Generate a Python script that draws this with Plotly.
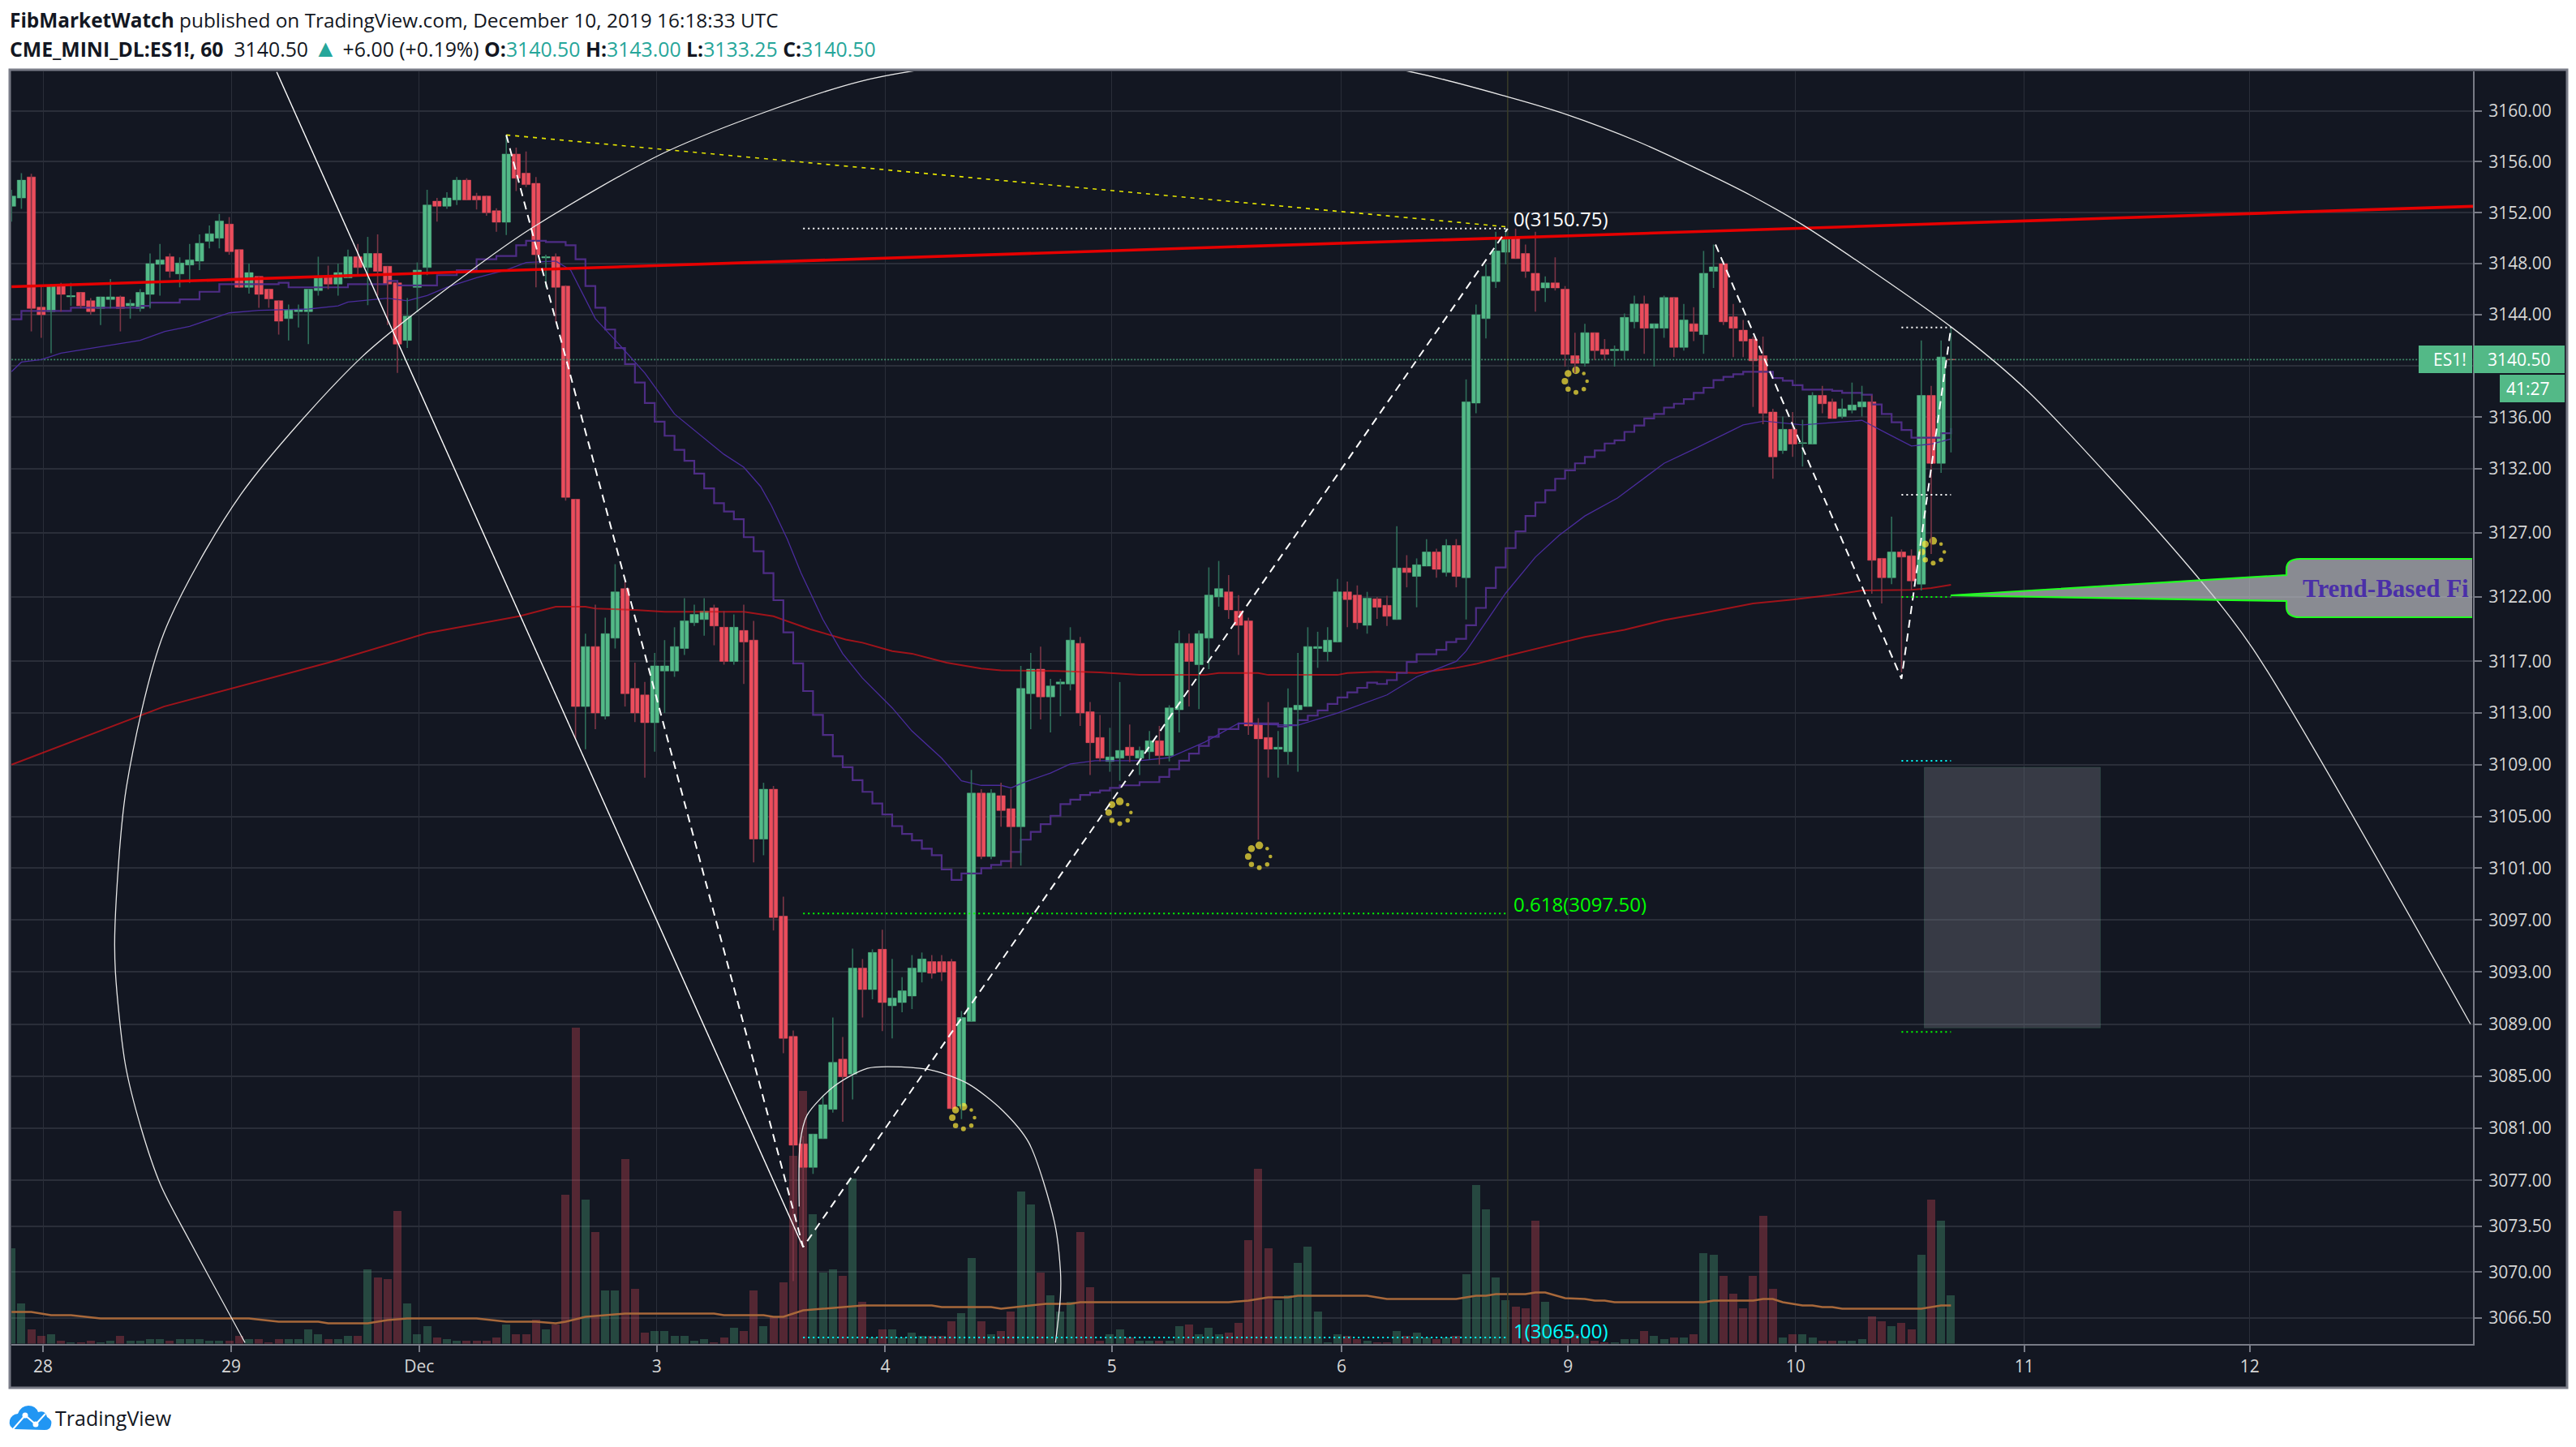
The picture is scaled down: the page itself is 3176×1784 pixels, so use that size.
import math
import plotly.graph_objects as go

W, H = 3176, 1784

# ---------- candles (one hourly bar per entry, weekend gaps removed) ----------
opens = [
3152.5,3153.15,3154.8,3144.6,3144.25,3146.3,3145.4,3145.75,3145.1,3144.5,
3145.2,3145.4,3144.7,3144.5,3145.6,3147.95,3148.55,3147.2,3147.9,3148.2,
3149.75,3150,3151.1,3149.1,3146.15,3147,3146,3145.1,3143.7,3144.25,
3144.25,3145.9,3147,3146.4,3146.9,3148.55,3147.7,3148.8,3147.8,3146.5,
3142,3146.15,3147.7,3152.9,3152.5,3153,3154.55,3153.3,3153.3,3152.15,
3151.25,3156.6,3155.1,3154.3,3148.45,3148.55,3146.25,3129.6,3113.5,3118.15,
3112.75,3118.8,3122.65,3114.9,3114.4,3112.25,3116.25,3116.25,3118,3120,
3120.25,3121.15,3119.65,3117,3119.4,3118.65,3103.25,3107.1,3097.3,3088.05,
3079.8,3078,3080.2,3082.45,3086.3,3085.15,3093.3,3091.65,3094.75,3090.4,
3090.65,3091.15,3093,3093.8,3093.8,3093.8,3082.7,3089.2,3106.8,3101.9,
3106.6,3105.6,3104.2,3114.5,3116.4,3114.25,3115.25,3115.25,3118.4,3113.1,
3111.1,3109.25,3109.5,3110.35,3109.5,3110,3110.85,3109.7,3113.25,3118.4,
3116.75,3118.8,3122,3122.4,3120.9,3120.15,3112.1,3111.1,3110.2,3110,
3113.25,3113.5,3118,3117.75,3118.5,3122.4,3122.15,3119.8,3121.86,3121.35,
3120.25,3124.25,3123.6,3124.4,3125.5,3123.9,3126,3123.5,3137.1,3143.7,
3146.6,3148.9,3150,3148.8,3147.25,3146.1,3146.5,3146,3140.8,3140.2,
3142.6,3141.3,3141.2,3141.2,3143.45,3144.85,3142.95,3142.95,3145.35,3141.45,
3143.3,3142.45,3147.4,3148,3143.85,3142.8,3142.1,3140.8,3136.4,3133.4,
3135.05,3133.95,3133.9,3137.7,3137.2,3136.05,3136.55,3136.8,3137.2,3125,
3123.5,3125.5,3125.2,3123,3137.7,3132.4,3140.5]
highs = [
3153.8,3155.1,3155.05,3146.3,3146.4,3146.5,3146.5,3145.75,3145.3,3145.4,
3146.8,3145.5,3145.2,3146,3148.8,3149.55,3148.8,3148.5,3149.55,3150.3,
3151,3151.9,3151.65,3149.1,3148,3147,3146,3145.1,3144.8,3144.8,
3146,3148.55,3147.85,3148,3149.1,3149.55,3150.1,3150.3,3147.8,3146.5,
3145.3,3148.1,3153.8,3153.15,3153.6,3154.8,3154.7,3153.55,3153.3,3152.35,
3158.1,3157.1,3156.8,3154.8,3148.7,3148.8,3146.3,3129.6,3119.15,3121.4,
3120.4,3124.55,3123.2,3116.9,3115.4,3117.65,3118.65,3119.65,3121.9,3121.4,
3121.9,3121.4,3120.9,3120.65,3121.4,3120.15,3107.6,3107.35,3098.8,3088.5,
3080.4,3080.55,3083.5,3089.5,3088,3094.8,3094,3094.75,3096.25,3094,
3092.6,3094.3,3094.5,3094.3,3094.3,3094,3090,3108.6,3107.1,3107.1,
3107.6,3107.1,3116.65,3117.65,3118.15,3115.65,3115.65,3119.65,3118.9,3113.85,
3112.85,3111.85,3115.4,3112.1,3110.4,3111.6,3112,3113.6,3119.4,3119.15,
3119.4,3124.3,3124.8,3123.7,3122.15,3120.4,3112.6,3113.85,3111.6,3114.9,
3117.65,3119.65,3119.3,3119.65,3123.4,3123.2,3122.9,3122.4,3122,3122.1,
3127.5,3125.25,3125,3126.5,3125.75,3126.5,3126.5,3138.95,3144.8,3147.95,
3150.5,3150.75,3150.75,3149.5,3150.5,3147,3148.5,3146.25,3142.6,3143.3,
3142.6,3142.1,3141.6,3144.1,3145.5,3145.5,3143.3,3145.5,3145.4,3144.85,
3144.6,3149,3149.5,3148.2,3144.85,3143.6,3142.3,3142.3,3136.65,3136.05,
3136.4,3135.8,3137.95,3138.45,3137.45,3137.45,3138.7,3138.45,3137.7,3125,
3128.25,3125.7,3125.7,3142,3138.45,3142,3143]
lows = [
3151.3,3152.3,3142.7,3142.2,3141,3144.25,3144.7,3144.5,3144,3143.2,
3144.5,3142.7,3143.7,3144.25,3144.5,3145.5,3146.9,3146.15,3146.5,3147.5,
3149.2,3149.2,3148.7,3146.15,3145.65,3144.55,3144.55,3142.45,3142,3143,
3141.7,3145.5,3146,3145.5,3146.9,3147,3144.75,3145.5,3143.2,3139.45,
3141.4,3144.2,3147.1,3151.3,3152.3,3152.6,3153,3152.25,3151.75,3150.5,
3150.25,3153.7,3154,3146.15,3146.15,3143.45,3129.5,3111,3110.2,3111.75,
3112.5,3118,3113.5,3112.3,3108,3110,3113,3115.8,3117.5,3119.75,
3119,3118.25,3116.75,3116.75,3115.25,3101.45,3102,3096.2,3086.75,3069.3,
3071.9,3077.5,3080.2,3082.2,3081.5,3083.2,3089.5,3090.9,3088.45,3087.9,
3089.9,3090.15,3092.2,3092.5,3092.3,3082.5,3081.7,3089.2,3101.7,3101.7,
3104.2,3101,3101.2,3111.75,3112.5,3111.5,3112.75,3114.75,3112,3108.2,
3109.25,3108.45,3107.75,3109.2,3108.2,3109.4,3109,3109.25,3111.5,3113.5,
3113.3,3116.4,3121.25,3120.3,3117.5,3111.3,3103.2,3108,3108,3109,
3108.45,3113.5,3116.5,3117,3118.5,3119.65,3119.5,3119.15,3120.3,3119.75,
3120.25,3122.75,3121.2,3124.4,3123.5,3123.6,3122.75,3120.25,3136.3,3142.15,
3146.1,3147.95,3148.4,3146.9,3144.25,3145,3145.9,3139.95,3139.45,3139.95,
3140.45,3140.45,3139.95,3140.45,3142.95,3140.95,3139.95,3142.2,3140.7,3141.2,
3141.95,3140.95,3146.1,3143.2,3140.7,3140.7,3136.8,3135.45,3131.2,3133.15,
3132.9,3132.15,3133.9,3136.3,3135.9,3135.9,3136.3,3136.05,3122.25,3121.5,
3123,3116.15,3122.55,3122.5,3125.35,3131.65,3133.25]
closes = [
3153.3,3154.55,3144.5,3144,3146.3,3145.6,3145.5,3144.7,3144.25,3145.4,
3145.4,3144.5,3144.9,3145.75,3148,3148.3,3147.4,3148.05,3148.3,3149.6,
3150.35,3151.35,3148.95,3146.15,3147.3,3145.6,3145.25,3143.5,3144.4,3144.4,
3146,3147,3146.4,3147.3,3148.55,3147.7,3148.8,3147.4,3146.4,3141.7,
3143.9,3147.5,3152.6,3152.5,3153.15,3154.55,3153,3153,3152,3151.25,
3156.6,3154.7,3154.2,3148.7,3148.55,3146.15,3129.75,3113.5,3118.15,3113,
3119.15,3122.4,3114.5,3113,3112.25,3116.65,3116.65,3118.15,3120.15,3120.65,
3120.9,3119.75,3117,3119.65,3118.5,3103.25,3107.1,3097.2,3087.9,3079.7,
3078,3080.55,3082.8,3086.05,3084.95,3093.3,3091.65,3094.5,3090.65,3091,
3091.55,3093.3,3094,3092.9,3093,3082.5,3089.5,3106.8,3101.9,3106.8,
3105.45,3104.2,3114.9,3116.4,3114.25,3115.1,3115.4,3118.65,3113,3110.7,
3109.5,3109.6,3110.1,3109.7,3110.1,3110.85,3109.7,3113.4,3118.4,3117,
3119.15,3122.15,3122.65,3121,3119.8,3112,3111,3110.2,3110.35,3113.4,
3113.6,3118.15,3118.15,3118.65,3122.4,3121.8,3120,3121.9,3121.2,3120.5,
3124.25,3123.9,3124.5,3125.5,3124.15,3126,3123.6,3137.2,3144,3147,
3149,3150,3148.4,3147.4,3145.9,3146.5,3146.1,3140.9,3140.2,3142.6,
3141.2,3140.9,3141.3,3143.8,3144.85,3142.95,3143.3,3145.35,3141.45,3143.6,
3142.7,3147.25,3147.75,3143.45,3142.95,3141.95,3140.4,3136.3,3132.9,3135.05,
3133.9,3134,3137.7,3137.05,3135.9,3136.65,3136.95,3137.2,3124.85,3123.5,
3125.5,3125.1,3123.25,3137.7,3132.4,3140.7,3140.5]

# volume, hundreds of contracts
volumes = [
118,50,18,10,12,4,2,2,4,2,4,10,4,4,6,6,4,6,6,6,
4,4,4,10,6,6,2,6,6,6,18,12,6,6,10,10,92,82,80,164,
50,12,22,8,6,4,4,4,4,8,24,12,12,30,18,24,184,390,178,138,
66,66,228,68,14,16,16,10,10,4,6,2,8,20,16,66,22,34,76,232,
312,160,88,92,84,204,52,8,18,18,8,14,10,10,10,28,38,106,28,12,
16,40,188,172,88,60,40,52,138,70,4,12,18,8,4,4,4,4,22,24,
12,20,12,14,26,128,216,118,54,60,100,120,40,2,12,10,6,4,2,2,
16,10,14,8,6,8,10,86,196,166,82,54,46,44,152,52,6,10,12,9,
4,2,2,6,6,16,10,6,8,8,12,112,110,84,62,44,84,158,68,8,
12,12,8,4,4,4,4,6,34,28,22,26,18,110,178,152,60]

vol_ma_x = [0,2,4,6,9,24,27,31,32,36,38,40,47,50,53,55,56,58,60,62,71,72,76,77,78,80,82,84,86,93,94,99,100,103,
            104.5,107,108,123,125,127,129,130,137,139,146,148,149,150,153,154,155,157,159,160,161,162,171,172,176,177,178,179,181,182,183,184,185,193,195,196]
vol_ma_y = [39,39,35,35,31,31,27,27,25,25,29,31,31,27,27,25,27,33,35,37,37,35,35,33,33,41,43,45,47,47,45,45,43,47,
            49,49,51,51,53,57,57,59,59,55,55,59,59,61,61,63,63,56,55,53,53,51,51,53,53,55,55,51,47,47,45,45,43,43,47,47]

# ---------- moving averages ----------
ma_fast_x = [0,1,3,5,13,15.5,18,22,25,30,33,34,38,40,42,44,47,50,52,55,56.5,59,61.5,64,67,69,72,74,75.7,76.8,78.4,79.8,82,84,86,89,91,94,96,98,100,101,102.2,105,107,109.5,114,117,120.6,124,126.7,130,134,139,142,146,147,151,154,156.4,159,162.3,167,170,175,177.1,181,184.4,187,189.5,192,194,196]
ma_fast_y = [3139.55,3140.3,3140.5,3141,3142,3142.7,3143.1,3144.15,3144.35,3144.45,3144.7,3145,3145.3,3145.1,3145.5,3146.15,3146.9,3147.5,3148.1,3148.2,3147.5,3143.7,3141.6,3139.45,3136.25,3135,3133.1,3132.1,3130.6,3129.1,3126.5,3123.85,3120.25,3117.6,3115.7,3113.4,3111.6,3109.5,3107.75,3107.4,3107.4,3107.2,3107.6,3108.35,3109.05,3109.3,3109.3,3109.55,3110.75,3112.2,3112.1,3112.05,3113,3114.4,3115.8,3117,3117.8,3122.3,3125.1,3126.8,3128.3,3129.7,3132.4,3133.5,3135.4,3135.7,3135.4,3135.6,3135.75,3134.75,3133.75,3133.9,3134.3]

ma_step_x = [0,1,6,13,14,17,19,21,27,28,32,34,38,39,42,43,45,47,49,51,52,54,56,57,58,59,60,61,62,63,64,65,66,67,68,69,70,71,72,73,74,75,76,77,78,79,80,81,82,83,84,85,86,87,88,89,90,91,92,93,94,95,96,98,99,100,101,102,103,104,105,106,107,108,109,110,111,112,114,116,117,118,119,120,121,122,124,128,129,130,131,132,133,134,135,136,137,
             138,139,140,141,142,144,145,146,147,148,149,150,151,152,153,154,155,156,157,158,159,160,161,162,163,164,165,166,167,168,169,170,171,172,173,174,175,178,179,180,181,184,185,187,188,189,190,191,192,195,196]
ma_step_y = [3143.65,3144.3,3144.55,3144.7,3144.95,3145.2,3145.8,3146.4,3146.5,3146.15,3146.15,3146.4,3146.65,3146.3,3146.3,3147.1,3147.5,3148.35,3148.6,3149.45,3149.8,3149.7,3149.45,3148.35,3146.25,3144.55,3142.85,3141.4,3140.15,3138.7,3137.1,3135.65,3134.55,3133.45,3132.6,3131.6,3130.45,3129.3,3128.65,3128.05,3126.65,3125.55,3123.85,3121.75,3119.25,3116.85,3114.7,3112.85,3111.3,3109.65,3108.8,3107.8,3106.9,3106,3105.15,3104.25,3103.65,3103.15,3102.5,3102,3100.9,3100.1,3100.6,3101,3101.25,3101.55,3102.25,3103.2,3103.8,3104.4,3105.05,3105.95,3106.3,3106.65,3106.85,3107,3107.2,3107.4,3107.65,3108.05,3108.65,3109.3,3109.85,3110.45,3111.15,3111.75,3112.2,3111.95,3112.05,3112.45,3112.8,3113.2,3113.7,3114.2,3114.6,3114.95,3115.35,
             3115.25,3115.55,3116.1,3116.95,3117.55,3117.9,3118.5,3118.75,3119.8,3121.15,3122.7,3124.3,3125.8,3127.1,3128.3,3129.35,3130.3,3131.2,3131.85,3132.4,3132.9,3133.4,3133.95,3134.2,3134.85,3135.35,3135.9,3136.25,3136.75,3137.05,3137.4,3137.9,3138.3,3138.9,3139.15,3139.35,3139.55,3139.05,3138.85,3138.5,3138.15,3138.05,3137.9,3137.75,3137,3136.25,3135.6,3135,3134.4,3134.75,3135.15]

ma_long_x = [0,15.4,32,42,51.3,53,55,58,59,63,66,74,77,80.7,84.3,86,89,91,94.5,98,100,105.6,110,114,120.6,122,126,127,134,135,138,142,146,148,151,155,159,163,167,171,176,180,184.4,187,192,194,196]
ma_long_y = [3109,3113.5,3116.9,3119.2,3120.5,3120.85,3121.25,3121.25,3121.1,3121,3120.85,3120.85,3120.5,3119.5,3118.7,3118.45,3117.8,3117.6,3116.9,3116.45,3116.3,3116.25,3116.15,3115.95,3115.95,3116.1,3116.1,3115.95,3115.95,3116.1,3116.2,3116.1,3116.5,3116.8,3117.4,3118.15,3118.9,3119.45,3120.2,3120.75,3121.5,3121.8,3122.2,3122.5,3122.55,3122.7,3122.95]

# ---------- drawings ----------
fib_high, fib_mid, fib_low = 3150.75, 3097.5, 3065.0
zigzag_a_x, zigzag_a_y = [50, 80, 151.2], [3158.1, 3071.9, 3150.75]
zigzag_b_x, zigzag_b_y = [172.2, 191, 196], [3149.5, 3115.65, 3143]
yellow_x, yellow_y = [50, 151], [3158.1, 3150.9]
trend_x, trend_y = [0, 248.75], [3146.2, 3152.5]
ray_x, ray_y = [26.8, 80], [3163.05, 3071.9]
spiral_small_x = [79.6,79.7,80.4,83.1,86.5,89.9,93.3,96.7,100.1,102.8,105.4,106,106,105.5]
spiral_small_y = [3075,3079.9,3082,3084.2,3085.6,3085.7,3085.4,3084.4,3082.4,3079.9,3073.8,3070.1,3068.1,3064.6]
spiral_big_x = [23.6,18.2,15.1,13.1,11.5,10.5,10.46,11.6,15.4,23.2,35.4,46,52.6,66.5,85.7,100,115,130,141.2,151.2,157.2,164.3,171,175.9,181.1,196.1,203.8,220.1,226.5,248.5]
spiral_big_y = [3064.6,3072.1,3076.6,3081,3085.9,3093,3096.6,3107.2,3119.2,3130,3140.7,3147.2,3150.8,3156.9,3162.3,3164,3164.6,3164.2,3163.1,3161.1,3159.7,3157.6,3155.2,3153.3,3151,3143,3138,3124.3,3118,3089]
ring_x = [112.0, 126.1, 96.2, 158.1, 194.2]
ring_y = [3105.3, 3101.9, 3081.8, 3138.8, 3125.5]
box_x, box_y = [193.3, 211.1], [3108.8, 3088.7]
last_price = 3140.5

tick_i = [3.18, 22.2, 41.2, 65.2, 88.3, 111.2, 134.4, 157.3, 180.3, 203.4, 226.2]
tick_day = ["28", "29", "Dec", "3", "4", "5", "6", "9", "10", "11", "12"]
price_ticks = [3160,3156,3152,3148,3144,3140,3136,3132,3127,3122,3117,3113,3109,3105,3101,3097,3093,3089,3085,3081,3077,3073.5,3070,3066.5]

# ---------- layout constants ----------
BG, GRID, AXIS = "#131722", "#2a2e39", "#787b86"
UP, DOWN = "#53b987", "#eb4d5c"
UP_W, DOWN_W = "#2f6e5a", "#7c3646"
TEAL = "#26a69a"
FONT = "Open Sans"
pane_l, pane_r, pane_t, pane_b = 14, 3049, 88, 1656.5
bar_px, bar0_px = 12.2, 14.2
LOG_B = 114083.0
log_at = lambda y: math.log10(3160) - (y - 136.6) / LOG_B
px = lambda x: x / W
py = lambda y: 1 - y / H
n = len(opens)
idx = list(range(n))

fig = go.Figure()

# volume (base subplot, under the price subplot)
fig.add_trace(go.Bar(x=idx, y=volumes, width=0.82, yaxis="y",
    marker=dict(line_width=0, color=["rgba(83,185,135,0.3)" if closes[i] >= opens[i] else "rgba(235,77,92,0.3)" for i in idx])))
fig.add_trace(go.Scatter(x=vol_ma_x, y=vol_ma_y, yaxis="y", mode="lines", line=dict(color="#a8683a", width=2.5)))

def line(x, y, color, width, dash=None, shape="linear", smoothing=None):
    ln = dict(color=color, width=width, shape=shape)
    if dash: ln["dash"] = dash
    if smoothing is not None: ln["smoothing"] = smoothing
    fig.add_trace(go.Scatter(x=x, y=y, yaxis="y2", mode="lines", line=ln))

# box / last price / time marker
fig.add_trace(go.Scatter(x=[box_x[0], box_x[1], box_x[1], box_x[0], box_x[0]],
                         y=[box_y[0], box_y[0], box_y[1], box_y[1], box_y[0]],
                         yaxis="y2", mode="lines", fill="toself",
                         fillcolor="rgba(120,123,134,0.36)", line=dict(color="rgba(83,185,135,0.18)", width=1)))
y_top, y_bot = 10 ** log_at(pane_t), 10 ** log_at(pane_b)
line([151.2, 151.2], [y_bot, y_top], "#3a3d28", 1.5)
line([0, 248.75], [last_price, last_price], "rgba(83,185,135,0.7)", 1.8, "2px,2px")

# marker rings
ring_off = [(0,-13.7),(9.7,-9.7),(13.7,0),(9.7,9.7),(0,13.7),(-9.7,9.7),(-13.7,0),(-9.7,-9.7)]
ring_sz = [9.5,4.5,4.5,5.5,6,6.5,8,8.5]
rx, ry, rs = [], [], []
for cx, cy in zip(ring_x, ring_y):
    for (dx, dy), s in zip(ring_off, ring_sz):
        rx.append(cx + dx / bar_px)
        ry.append(cy * 10 ** (-dy / LOG_B))
        rs.append(s)
fig.add_trace(go.Scatter(x=rx, y=ry, yaxis="y2", mode="markers", marker=dict(color="#ffeb3b", size=rs, line_width=0)))

# moving averages behind the candles
line(ma_long_x, ma_long_y, "rgba(214,18,24,0.72)", 2)
line(ma_step_x, ma_step_y, "#4e2d85", 2.2, shape="hv")
line(ma_fast_x, ma_fast_y, "#4a2c9c", 1.3)

# wicks
def wicks(up):
    xs, ys = [], []
    for i in idx:
        if (closes[i] >= opens[i]) == up:
            xs += [i, i, None]; ys += [lows[i], highs[i], None]
    return xs, ys
for up, col in ((True, UP_W), (False, DOWN_W)):
    xs, ys = wicks(up)
    fig.add_trace(go.Scatter(x=xs, y=ys, yaxis="y2", mode="lines", connectgaps=False, line=dict(color=col, width=1.6)))

# bodies
fig.add_trace(go.Candlestick(x=idx, open=opens, close=closes,
    high=[max(a, b) for a, b in zip(opens, closes)], low=[min(a, b) for a, b in zip(opens, closes)],
    yaxis="y2", whiskerwidth=0,
    increasing=dict(fillcolor=UP, line=dict(color=UP, width=0.5)),
    decreasing=dict(fillcolor=DOWN, line=dict(color=DOWN, width=0.5))))

# drawings above candles
line(trend_x, trend_y, "#e60000", 3.6)
line(yellow_x, yellow_y, "#e6e600", 1.6, "5px,6px")
line(ray_x, ray_y, "#ffffff", 1.4)
line(spiral_big_x, spiral_big_y, "#e8e8e8", 1.3, shape="spline", smoothing=0.8)
line(spiral_small_x, spiral_small_y, "#e8e8e8", 1.3, shape="spline", smoothing=0.8)
line(zigzag_a_x, zigzag_a_y, "#ffffff", 2, "10px,7px")
line(zigzag_b_x, zigzag_b_y, "#ffffff", 2, "10px,7px")
line([80, 151.05], [fib_high, fib_high], "#ffffff", 2, "2px,4px")
line([80, 151.05], [fib_mid, fib_mid], "#00ff00", 2, "2px,4px")
line([80, 151.05], [fib_low, fib_low], "#00ffff", 2, "2px,4px")
for lvl, col in ((3143, "#ffffff"), (3129.95, "#ffffff"), (3122, "#00ff00"), (3109.3, "#00ffff"), (3088.4, "#00ff00")):
    line([191, 196], [lvl, lvl], col, 2, "2px,4px")

# ---------- shapes ----------
def prect(x0, y0, x1, y1, **kw):
    return dict(type="rect", xref="paper", yref="paper", x0=px(x0), x1=px(x1), y0=py(y0), y1=py(y1), **kw)

def pth(points, **kw):
    s = []
    for cmd, coords in points:
        s.append(cmd + " ".join(f"{px(coords[k]):.6f},{py(coords[k+1]):.6f}" for k in range(0, len(coords), 2)))
    return dict(type="path", xref="paper", yref="paper", path=" ".join(s), **kw)

callout = [("M", [2405, 734]), ("L", [2819, 709]), ("L", [2819, 702]), ("Q", [2819, 689, 2836, 689]),
           ("L", [3048, 689]), ("M", [3048, 761]), ("L", [2836, 761]), ("Q", [2819, 761, 2819, 748]),
           ("L", [2819, 741]), ("L", [2405, 734])]
callout_fill = callout[:5] + [("L", [3048, 761])] + callout[6:] + [("Z", [])]

cloud = [("M", [19, 1762]), ("Q", [10, 1760, 12, 1751]), ("Q", [14, 1744, 22, 1743]), ("Q", [26, 1733, 35, 1733]),
         ("Q", [44, 1733, 47, 1741]), ("Q", [56, 1738, 58, 1747]), ("Q", [65, 1751, 63, 1757]), ("Q", [62, 1763, 55, 1763]), ("Z", [])]

shapes = [
    prect(12, 86, 3165, 1711, fillcolor=BG, line=dict(color=AXIS, width=3), layer="below"),
    pth(callout_fill, fillcolor="rgba(202,202,207,0.65)", line=dict(width=0), layer="above"),
    pth(callout, line=dict(color="#22ff22", width=2.2), layer="above"),
    prect(2982, 426, 3048, 460, fillcolor=UP, line_width=0, layer="above"),
    prect(3050, 426, 3162, 460, fillcolor=UP, line_width=0, layer="above"),
    prect(3082, 462, 3162, 496, fillcolor=UP, line_width=0, layer="above"),
    pth(cloud, fillcolor="#2196f3", line_width=0, layer="above"),
    pth([("M", [16, 1762]), ("L", [31, 1745]), ("L", [44, 1756]), ("L", [56, 1743])], line=dict(color="#ffffff", width=2), layer="above"),
    dict(type="circle", xref="paper", yref="paper", x0=px(27.5), x1=px(34.5), y0=py(1741.5), y1=py(1748.5), fillcolor="#ffffff", line_width=0, layer="above"),
    dict(type="circle", xref="paper", yref="paper", x0=px(40.5), x1=px(47.5), y0=py(1752.5), y1=py(1759.5), fillcolor="#ffffff", line_width=0, layer="above"),
]

def note(x, y, text, size=21, color="#ffffff", anchor="left", family=FONT):
    return dict(xref="paper", yref="paper", x=px(x), y=py(y), text=text, showarrow=False, xanchor=anchor, yanchor="middle",
                font=dict(family=family, size=size, color=color), borderpad=0, borderwidth=0)

def val(v):
    return f'<span style="color:{TEAL}">{v}</span>'

ink = "#131722"
header1 = "<b>FibMarketWatch</b> published on TradingView.com, December 10, 2019 16:18:33 UTC"
header2 = (f"<b>CME_MINI_DL:ES1!, 60</b>  3140.50 <span style=\"color:{TEAL};font-size:30px\">▲</span> +6.00 (+0.19%) "
           f"<b>O:</b>{val('3140.50')} <b>H:</b>{val('3143.00')} <b>L:</b>{val('3133.25')} <b>C:</b>{val('3140.50')}")

annotations = [
    note(12, 25, header1, 24.4, ink),
    note(12, 59, header2, 24.8, ink),
    note(68, 1748, "TradingView", 25, ink),
    note(1866, 269, "0(3150.75)", 24, "#ffffff"),
    note(1866, 1114, "0.618(3097.50)", 24, "#00ff00"),
    note(1866, 1640, "1(3065.00)", 24, "#00ffff"),
    note(3020, 443, "ES1!", 21, "#ffffff", "center"),
    note(3106, 443, "3140.50", 21, "#ffffff", "center"),
    note(3117, 479, "41:27", 21, "#ffffff", "center"),
    note(2839, 725, "<b>Trend-Based Fi</b>", 31, "#4a2fa8", family="Liberation Serif"),
]

price_text = ["" if p == 3140 else f"{p:.2f}" for p in price_ticks]

dom_x = [px(pane_l), px(pane_r)]
dom_y = [py(pane_b), py(pane_t)]

fig.update_layout(
    width=W, height=H, autosize=False,
    margin=dict(l=0, r=0, t=0, b=0, pad=0),
    paper_bgcolor="#ffffff", plot_bgcolor=BG,
    showlegend=False, hovermode=False, bargap=0, boxgap=0.16, boxgroupgap=0, boxmode="overlay",
    shapes=shapes, annotations=annotations,
    font=dict(family=FONT),
    xaxis=dict(domain=dom_x, range=[(pane_l - bar0_px) / bar_px, (pane_r - bar0_px) / bar_px],
               tickmode="array", tickvals=tick_i, ticktext=tick_day, ticks="outside", ticklen=8, tickwidth=2, tickcolor=AXIS,
               tickfont=dict(family=FONT, size=21, color="#d6d6d6"),
               showline=True, linecolor=AXIS, linewidth=2, showgrid=True, gridcolor=GRID, gridwidth=1.2,
               zeroline=False, rangeslider=dict(visible=False), automargin=False),
    yaxis=dict(domain=dom_y, range=[0, pane_b - pane_t], visible=False, showgrid=False, zeroline=False, fixedrange=True),
    yaxis2=dict(domain=dom_y, type="log", range=[log_at(pane_b), log_at(pane_t)], overlaying="y", side="right", anchor="x",
                tickmode="array", tickvals=price_ticks, ticktext=price_text, ticks="outside", ticklen=9, tickwidth=2, tickcolor=AXIS,
                tickfont=dict(family=FONT, size=21, color="#d6d6d6"), ticklabelstandoff=4,
                showline=True, linecolor=AXIS, linewidth=2, showgrid=True, gridcolor=GRID, gridwidth=1.8,
                zeroline=False, automargin=False),
)

fig.write_html("out.html", config={"displayModeBar": False},
               post_script="document.body.style.margin='0';document.body.style.overflow='hidden';")
